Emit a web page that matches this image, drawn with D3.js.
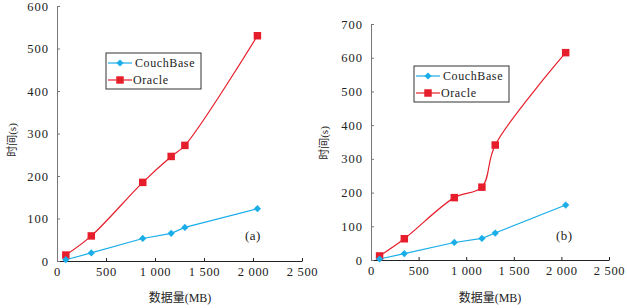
<!DOCTYPE html>
<html>
<head>
<meta charset="utf-8">
<script src="https://cdn.jsdelivr.net/npm/d3@7"></script>
<style>
  body { margin: 0; background: #fff; }
  text { font-family: "Liberation Serif", "Times New Roman", "Noto Sans CJK SC", serif; fill: #222; }
  .xaxis path, .xaxis line { stroke: #222; }
  .yaxis path, .yaxis line { stroke: #777; }
</style>
</head>
<body>
<svg width="627" height="308"></svg>
<script>
const sizes = [90, 350, 875, 1165, 1305, 2045];
const couchA = [3, 19, 53, 65, 79, 123];
const oracleA = [14, 59, 185, 246, 272, 530];
const couchB = [3, 19, 52, 64, 80, 163];
const oracleB = [12, 63, 185, 216, 341, 615];
const seriesNames = ["CouchBase", "Oracle"];
const xTicks = [0, 500, 1000, 1500, 2000, 2500];

const blue = "#1aaee8", red = "#e61e2b";
const svg = d3.select("svg");
const fmt = d3.formatLocale({decimal: ".", thousands: " ", grouping: [3], currency: ["", ""]}).format(",");

function panel(opt) {
  const g = svg.append("g");
  const x = d3.scaleLinear().domain([0, 2500]).range([opt.left, opt.right]);
  const y = d3.scaleLinear().domain([0, opt.ymax]).range([opt.bottom, opt.top]);

  g.append("g").attr("class", "xaxis")
    .attr("transform", `translate(0,${opt.bottom})`)
    .call(d3.axisBottom(x).tickValues(xTicks).tickFormat(fmt).tickSizeInner(-3).tickSizeOuter(0).tickPadding(6))
    .call(a => a.selectAll("text").attr("font-size", 12.5).style("letter-spacing", "0.7px"));

  g.append("g").attr("class", "yaxis")
    .attr("transform", `translate(${opt.left},0)`)
    .call(d3.axisLeft(y).ticks(opt.ymax / 100).tickSizeInner(-3).tickSizeOuter(0).tickPadding(8))
    .call(a => a.selectAll("text").attr("font-size", 12.5).style("letter-spacing", "1px"));

  const lineLin = d3.line().x((d, i) => x(sizes[i])).y(d => y(d));
  const lineSmooth = d3.line().x((d, i) => x(sizes[i])).y(d => y(d)).curve(d3.curveCatmullRom.alpha(0.5));

  g.append("path").attr("d", lineSmooth(opt.oracle)).attr("fill", "none").attr("stroke", red).attr("stroke-width", 1.2);
  g.append("path").attr("d", lineLin(opt.couch)).attr("fill", "none").attr("stroke", blue).attr("stroke-width", 1.2);

  const sq = d3.symbol().type(d3.symbolSquare).size(56);
  const dm = d3.symbol().type(d3.symbolSquare).size(26);

  g.selectAll(".o").data(opt.oracle).join("path")
    .attr("d", sq).attr("fill", red)
    .attr("transform", (d, i) => `translate(${x(sizes[i])},${y(d)})`);
  g.selectAll(".c").data(opt.couch).join("path")
    .attr("d", dm).attr("fill", blue)
    .attr("transform", (d, i) => `translate(${x(sizes[i])},${y(d)}) rotate(45)`);

  // legend
  const lg = g.append("g").attr("transform", `translate(${opt.legend[0]},${opt.legend[1]})`);
  lg.append("rect").attr("width", 95).attr("height", 36).attr("fill", "#fff").attr("stroke", "#333").attr("stroke-width", 1);
  seriesNames.forEach((name, i) => {
    const yy = 10 + i * 17;
    const c = i === 0 ? blue : red;
    lg.append("line").attr("x1", 2).attr("x2", 26).attr("y1", yy).attr("y2", yy).attr("stroke", c).attr("stroke-width", 1.2);
    lg.append("path").attr("d", i === 0 ? dm() : sq()).attr("fill", c)
      .attr("transform", `translate(14,${yy})` + (i === 0 ? " rotate(45)" : ""));
    lg.append("text").attr("x", i === 0 ? 29 : 27).attr("y", yy + 4).attr("font-size", 12)
      .style("letter-spacing", "0.6px").text(name);
  });

  g.append("text").attr("x", opt.tag[0]).attr("y", opt.tag[1]).attr("font-size", 13)
    .style("letter-spacing", "0.5px").text(opt.label);

  g.append("text")
    .attr("transform", `translate(${opt.ytitle[0]},${opt.ytitle[1]}) rotate(-90)`)
    .attr("text-anchor", "middle").attr("dominant-baseline", "middle").attr("font-size", 11).text("时间(s)");

  g.append("text")
    .attr("x", opt.xtitle[0]).attr("y", opt.xtitle[1])
    .attr("text-anchor", "middle").attr("font-size", 12).text("数据量(MB)");
}

panel({left: 57, right: 302, top: 6, bottom: 261, ymax: 600, couch: couchA, oracle: oracleA,
  legend: [106, 53], tag: [245, 240], label: "(a)", ytitle: [13, 140], xtitle: [180, 302]});
panel({left: 371, right: 609, top: 24, bottom: 260, ymax: 700, couch: couchB, oracle: oracleB,
  legend: [414, 66], tag: [556, 240], label: "(b)", ytitle: [325, 143], xtitle: [490, 302]});
</script>
</body>
</html>
